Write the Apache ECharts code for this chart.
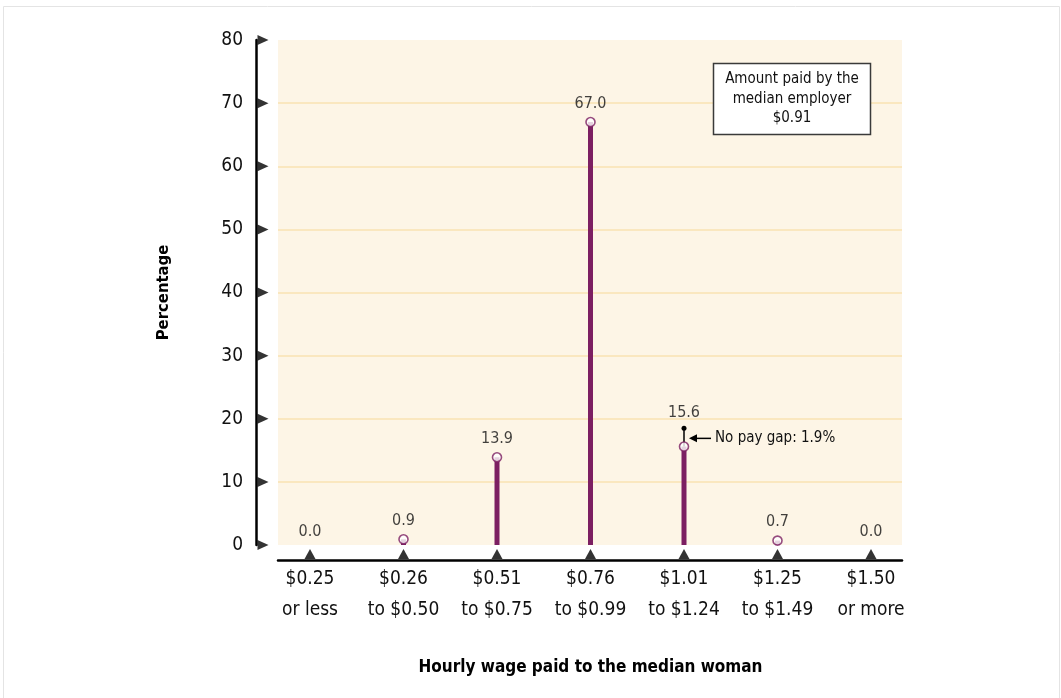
<!DOCTYPE html>
<html>
<head>
<meta charset="utf-8">
<script src="https://cdn.jsdelivr.net/npm/echarts@6/dist/echarts.min.js"></script>
<style>
  html, body { margin: 0; padding: 0; background: #ffffff; }
  #chart { width: 1061px; height: 698px; }
</style>
</head>
<body>
<div id="chart"></div>
<script>
// Wage bands paid to the median woman, and the share of employers in each
const categories = ['$0.25\nor less', '$0.26\nto $0.50', '$0.51\nto $0.75', '$0.76\nto $0.99', '$1.01\nto $1.24', '$1.25\nto $1.49', '$1.50\nor more'];
const percentages = [0.0, 0.9, 13.9, 67.0, 15.6, 0.7, 0.0];
const yTicks = [0, 10, 20, 30, 40, 50, 60, 70, 80];

// "No pay gap" marker above the $1.01–$1.24 band
const gapCategory = '$1.01\nto $1.24';
const gapRange = [15.6, 18.5];
const gapLabel = 'No pay gap: 1.9%';

const boxLines = ['Amount paid by the', 'median employer', '$0.91'];
const xTitle = 'Hourly wage paid to the median woman';
const yTitle = 'Percentage';

const FONT = "'DejaVu Sans Condensed', 'Liberation Sans Narrow', 'Roboto', sans-serif";
const PURPLE = '#7c1f62';
const INK = '#111111';

const chart = echarts.init(document.getElementById('chart'), null, { renderer: 'canvas' });

// value labels: the one under the gap marker sits above the marker's dot
const pointData = percentages.map((v, i) => (
  categories[i] === gapCategory ? { value: v, label: { distance: 20 } } : v
));

const option = {
  animation: false,
  backgroundColor: '#ffffff',
  textStyle: { fontFamily: FONT },
  grid: [
    // panel with the cream background, y axis and horizontal rules
    { left: 278, top: 40, width: 624, height: 505, show: true, backgroundColor: '#fdf5e6', borderWidth: 0 },
    // inner grid carrying the category positions
    { left: 310, top: 40, width: 561, height: 505 }
  ],
  xAxis: [
    {
      type: 'value', gridIndex: 0, min: 0, max: 1, offset: 15,
      axisLine: { show: true, onZero: false, lineStyle: { color: '#000', width: 2.5 } },
      axisTick: { show: false }, axisLabel: { show: false }, splitLine: { show: false }
    },
    {
      type: 'category', gridIndex: 1, data: categories, boundaryGap: false, offset: 15,
      axisLine: { show: false, onZero: false }, axisTick: { show: false },
      axisLabel: { fontFamily: FONT, fontSize: 19, lineHeight: 31, margin: 4, color: INK, interval: 0 },
      name: xTitle, nameLocation: 'middle', nameGap: 99,
      nameTextStyle: { fontFamily: FONT, fontSize: 17, fontWeight: 'bold', color: '#000' }
    }
  ],
  yAxis: [
    {
      type: 'value', gridIndex: 0, min: 0, max: 80, interval: 10, offset: 22,
      axisLine: { show: true, onZero: false, lineStyle: { color: '#000', width: 2.5 } },
      axisTick: { show: false },
      axisLabel: { fontFamily: FONT, fontSize: 19, margin: 13, color: INK },
      splitLine: { show: true, showMinLine: false, showMaxLine: false, lineStyle: { color: '#f8e2b2', width: 1.5 } },
      name: yTitle, nameLocation: 'middle', nameGap: 84, nameRotate: 90,
      nameTextStyle: { fontFamily: FONT, fontSize: 16.5, fontWeight: 'bold', color: '#000' }
    },
    { type: 'value', gridIndex: 1, min: 0, max: 80, show: false }
  ],
  series: [
    {
      type: 'bar', xAxisIndex: 1, yAxisIndex: 1, data: percentages,
      barWidth: 5, itemStyle: { color: PURPLE }, z: 2, silent: true
    },
    {
      type: 'line', xAxisIndex: 1, yAxisIndex: 1,
      data: gapRange.map(v => [gapCategory, v]),
      symbol: 'circle',
      symbolSize: (val, p) => (p.dataIndex === 1 ? 5 : 0),
      itemStyle: { color: '#000' },
      lineStyle: { color: '#000', width: 1.5 },
      z: 3, silent: true
    },
    {
      type: 'scatter', xAxisIndex: 1, yAxisIndex: 1, data: pointData,
      symbol: 'circle',
      symbolSize: v => (v > 0 ? 9 : 0),
      itemStyle: { color: '#ffffff', borderColor: PURPLE, borderWidth: 1.6 },
      label: {
        show: true, position: 'top', distance: 5,
        formatter: p => Number(p.value).toFixed(1),
        fontFamily: FONT, fontSize: 16, color: INK
      },
      z: 4, silent: true
    },
    {
      // upward tick marks on the category axis
      type: 'scatter', xAxisIndex: 1, yAxisIndex: 1,
      data: categories.map(c => [c, 0]),
      symbol: 'triangle', symbolSize: [11, 10], symbolOffset: [0, 9],
      itemStyle: { color: '#000' }, clip: false, z: 5, silent: true
    },
    {
      // right-pointing tick marks on the value axis
      type: 'scatter', xAxisIndex: 0, yAxisIndex: 0,
      data: yTicks.map(t => [0, t]),
      symbol: 'triangle', symbolSize: [10, 11], symbolRotate: -90, symbolOffset: [-15, 0],
      itemStyle: { color: '#000' }, clip: false, z: 5, silent: true
    }
  ]
};

chart.setOption(option);

// Annotations placed from the axis scales
const gapLow = chart.convertToPixel({ xAxisIndex: 1, yAxisIndex: 1 }, [gapCategory, gapRange[0]]);
const gapHigh = chart.convertToPixel({ xAxisIndex: 1, yAxisIndex: 1 }, [gapCategory, gapRange[1]]);
const midY = (gapLow[1] + gapHigh[1]) / 2 + 1;
const ax = gapLow[0];

chart.setOption({
  graphic: [
    {
      type: 'rect', silent: true, z: 0,
      shape: { x: 3.5, y: 6.5, width: 1056, height: 700 },
      style: { fill: 'none', stroke: '#e4e4e4', lineWidth: 1 }
    },
    {
      type: 'group', silent: true, z: 10,
      children: [
        {
          type: 'rect',
          shape: { x: 713.5, y: 63.5, width: 157, height: 71 },
          style: { fill: '#ffffff', stroke: '#3a3a3a', lineWidth: 1.5 }
        },
        {
          type: 'text', x: 792, y: 99,
          style: {
            text: boxLines.join('\n'), align: 'center', verticalAlign: 'middle',
            fontFamily: FONT, fontSize: 15, lineHeight: 19.5, fill: INK
          }
        }
      ]
    },
    {
      type: 'group', silent: true, z: 10,
      children: [
        {
          type: 'line',
          shape: { x1: ax + 8, y1: midY, x2: ax + 27, y2: midY },
          style: { stroke: '#000', lineWidth: 1.5 }
        },
        {
          type: 'polygon',
          shape: { points: [[ax + 5, midY], [ax + 13, midY - 4], [ax + 13, midY + 4]] },
          style: { fill: '#000' }
        },
        {
          type: 'text', x: ax + 31, y: midY,
          style: {
            text: gapLabel, align: 'left', verticalAlign: 'middle',
            fontFamily: FONT, fontSize: 15, fill: INK
          }
        }
      ]
    }
  ]
});
</script>
</body>
</html>
